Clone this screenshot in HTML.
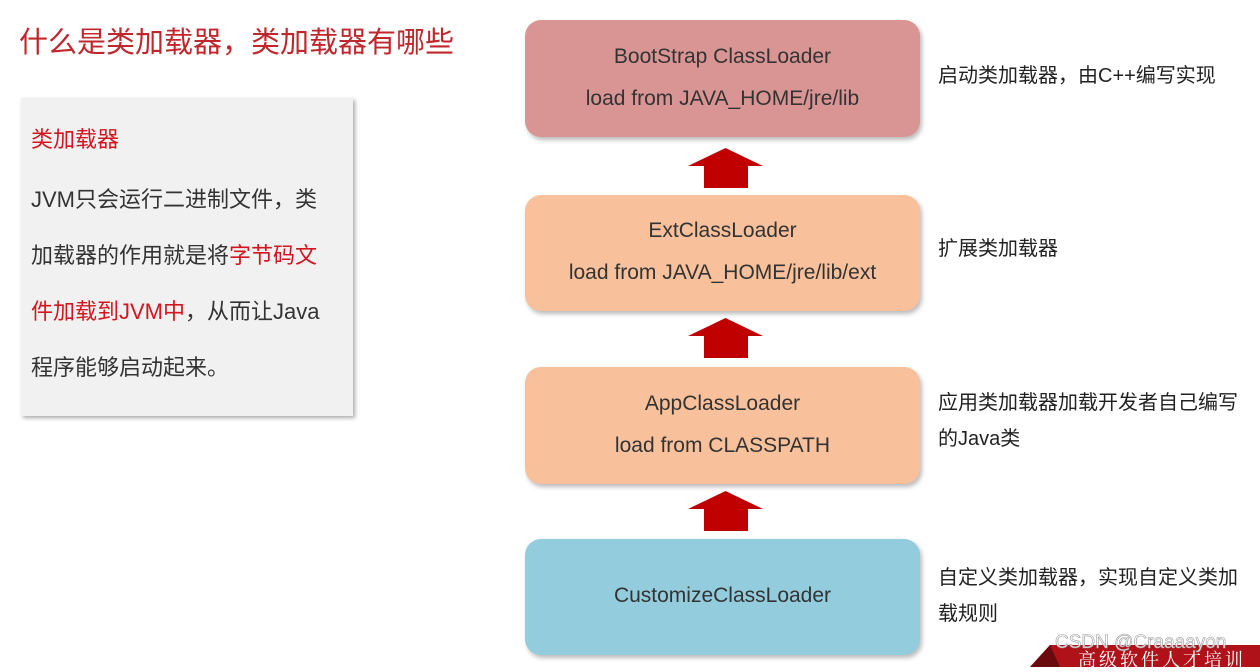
<!DOCTYPE html>
<html><head><meta charset="utf-8"><style>
body{margin:0;width:1260px;height:667px;background:#fff;position:relative;overflow:hidden;font-family:"Liberation Sans","Noto Sans CJK SC",sans-serif;}
.t{position:absolute;left:19px;top:19px;font-size:29px;color:#c0272d;}
.panel{position:absolute;left:21px;top:98px;width:332px;height:318px;background:#f1f1f1;box-shadow:2px 2px 4px #aaa;}
.panel div{position:absolute;left:10px;font-size:22px;color:#333;white-space:nowrap;}
.panel .r,.r{color:#d2151e;}
.box{position:absolute;left:525px;width:395px;border-radius:16px;box-shadow:2px 3px 5px #bbb;text-align:center;font-size:21px;color:#333;line-height:42px;}
.note{position:absolute;left:938px;font-size:20px;color:#222;line-height:36px;white-space:nowrap;}
.arr{position:absolute;left:688px;width:75px;height:40px;}
</style></head><body>
<div class="t">什么是类加载器，类加载器有哪些</div>
<div class="panel">
<div class="r" style="top:24px">类加载器</div>
<div style="top:84px">JVM只会运行二进制文件，类</div>
<div style="top:140px">加载器的作用就是将<span class="r">字节码文</span></div>
<div style="top:196px"><span class="r">件加载到JVM中</span>，从而让Java</div>
<div style="top:252px">程序能够启动起来。</div>
</div>
<div class="box" style="top:20px;height:117px;background:#d99594;padding-top:16px;box-sizing:border-box">BootStrap ClassLoader<br>load from JAVA_HOME/jre/lib</div>
<div class="box" style="top:195px;height:116px;background:#f8c19b;padding-top:15px;box-sizing:border-box">ExtClassLoader<br>load from JAVA_HOME/jre/lib/ext</div>
<div class="box" style="top:367px;height:117px;background:#f8c19b;padding-top:16px;box-sizing:border-box">AppClassLoader<br>load from CLASSPATH</div>
<div class="box" style="top:539px;height:116px;background:#93cddd;line-height:114px">CustomizeClassLoader</div>
<svg class="arr" style="top:148px" viewBox="0 0 75 40"><polygon points="37.5,0 75,18 60,18 60,40 16,40 16,18 0,18" fill="#c00000"/></svg>
<svg class="arr" style="top:318px" viewBox="0 0 75 40"><polygon points="37.5,0 75,18 60,18 60,40 16,40 16,18 0,18" fill="#c00000"/></svg>
<svg class="arr" style="top:491px" viewBox="0 0 75 40"><polygon points="37.5,0 75,18 60,18 60,40 16,40 16,18 0,18" fill="#c00000"/></svg>
<div class="note" style="top:58px">启动类加载器，由C++编写实现</div>
<div class="note" style="top:231px">扩展类加载器</div>
<div class="note" style="top:385px">应用类加载器加载开发者自己编写<br>的Java类</div>
<div class="note" style="top:560px">自定义类加载器，实现自定义类加<br>载规则</div>
<svg style="position:absolute;left:1030px;top:645px" width="230" height="22"><polygon points="20,0 230,0 230,22 0,22" fill="#b0121a"/><polygon points="0,22 20,0 30,22" fill="#6a0a0e"/></svg>
<div style="position:absolute;left:1078px;top:646px;font-size:18px;color:#fff;font-family:'Noto Serif CJK SC',serif;letter-spacing:3px">高级软件人才培训</div>
<div style="position:absolute;left:1055px;top:632px;font-size:19px;color:rgba(255,255,255,0.85);-webkit-text-stroke:0.6px #999">CSDN @Craaaayon</div>
</body></html>
